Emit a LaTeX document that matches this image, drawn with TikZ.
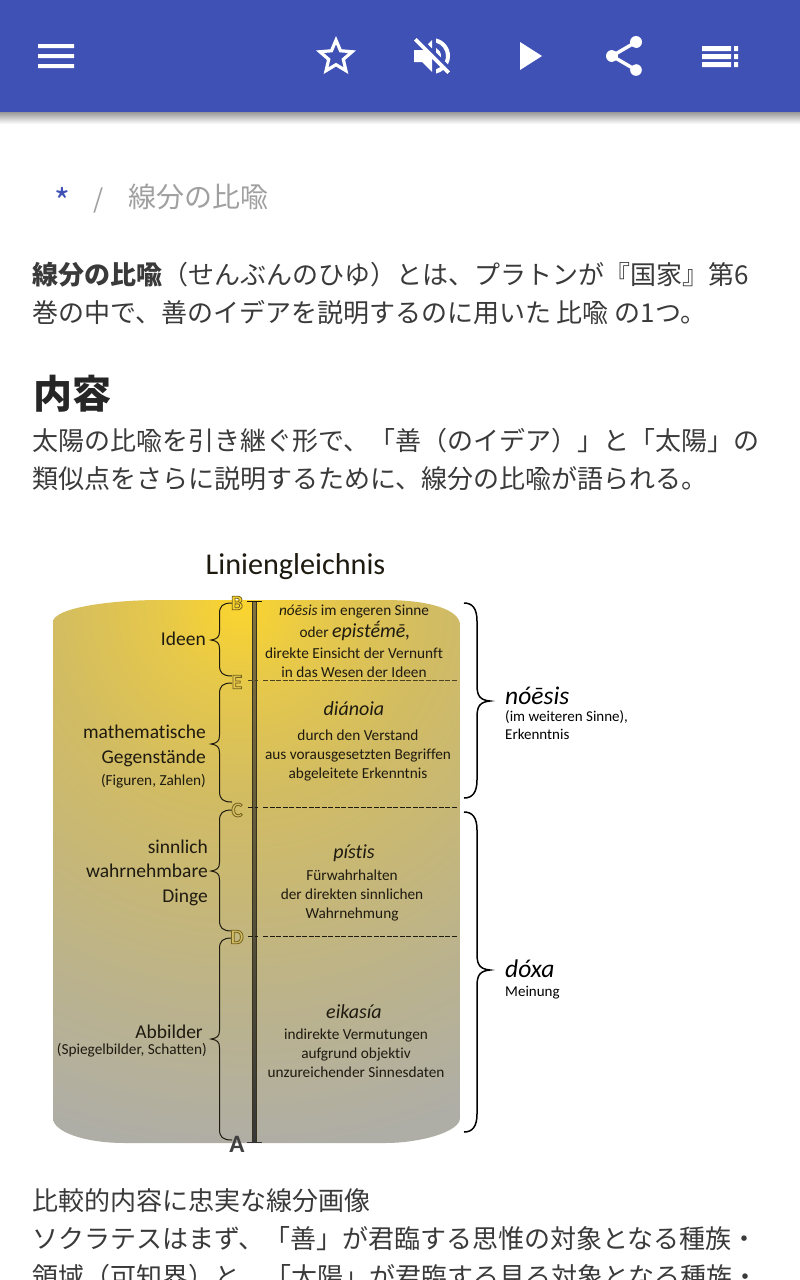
\documentclass[tikz,border=0pt]{standalone}
\usepackage{fontspec}
\setmainfont{Carlito}[Ligatures=NoCommon]
\newfontfamily\jp{Noto Sans CJK JP}
\usetikzlibrary{svg.path}
\definecolor{hdr}{HTML}{3F51B5}
\definecolor{bodytxt}{HTML}{3A3A3A}
\definecolor{crumb}{HTML}{A0A0A0}
\definecolor{ink}{HTML}{1E1A10}
\definecolor{c0}{HTML}{FBD52E}
\definecolor{c1}{HTML}{E6C84A}
\definecolor{c2}{HTML}{D2BC62}
\definecolor{c3}{HTML}{BCB38A}
\definecolor{c4}{HTML}{AFAEA6}
\pgfdeclareradialshading{cyl}{\pgfpointorigin}{color(0bp)=(c0); color(2.9bp)=(c1); color(6.8bp)=(c2); color(14bp)=(c3); color(19.5bp)=(c4); color(50bp)=(c4)}
\newcommand{\hollow}[2]{\textcolor{#1}{\special{pdf:code 2 Tr 0.8 w 0.45 0.38 0.12 RG}#2\special{pdf:code 0 Tr}}}
\newcommand{\lbr}[6]{\draw[bracestyle] (#1,#4) .. controls (#2+3,#4) and (#2,#4+3) .. (#2,#4+11) -- (#2,#5-9) .. controls (#2,#5-3) and (#2-2,#5-1) .. (#3,#5) .. controls (#2-2,#5+1) and (#2,#5+3) .. (#2,#5+9) -- (#2,#6-11) .. controls (#2,#6-3) and (#2+3,#6) .. (#1,#6);}
\newcommand{\rbr}[6]{\draw[bracestyle,line width=1.5pt,black] (#1,#4) .. controls (#2-5,#4) and (#2,#4+5) .. (#2,#4+18) -- (#2,#5-16) .. controls (#2,#5-5) and (#2+3,#5-1) .. (#3,#5) .. controls (#2+3,#5+1) and (#2,#5+5) .. (#2,#5+16) -- (#2,#6-18) .. controls (#2,#6-5) and (#2-5,#6) .. (#1,#6);}
\tikzset{
  bracestyle/.style={draw=ink,line width=1pt},
  iconfill/.style={fill=white,even odd rule},
  bodyline/.style={anchor=base west,inner sep=0,font=\jp\fontsize{26}{26}\selectfont,text=bodytxt},
  rt/.style={anchor=base east,inner sep=0,text=ink},
  ct/.style={anchor=base,inner sep=0,text=ink},
  lt/.style={anchor=base west,inner sep=0,text=black},
  big/.style={font=\fontsize{19.5}{19.5}\selectfont},
  mid/.style={font=\fontsize{15.3}{15.3}\selectfont},
  ital/.style={font=\fontsize{20}{20}\selectfont\itshape},
  dashline/.style={draw=ink,line width=0.9pt,dash pattern=on 5pt off 1.5pt},
  letter/.style={anchor=center,inner sep=0,font=\bfseries\fontsize{21}{21}\selectfont}
}
\begin{document}
\begin{tikzpicture}[x=1pt,y=-1pt]
\useasboundingbox (0,0) rectangle (800,1280);
\clip (0,0) rectangle (800,1280);
\fill[white] (0,0) rectangle (800,1280);
% header
\shade[top color=black!40,bottom color=white] (0,112) rectangle (800,124);
\fill[hdr] (0,0) rectangle (800,112);
\begin{scope}[shift={(32,32)},xscale=2,yscale=-2]
 \fill[iconfill] svg {M3 18 h18 v-2 H3 z M3 13 h18 v-2 H3 z M3 6 v2 h18 V6 z};
\end{scope}
\begin{scope}[shift={(312,32)},xscale=2,yscale=-2]
 \fill[iconfill] svg {M22 9.24 L14.81 8.62 L12 2 L9.19 8.63 L2 9.24 L7.46 13.97 L5.82 21 L12 17.27 L18.18 21 L16.55 13.97 z M12 15.4 L8.24 17.67 L9.24 13.39 L5.92 10.51 L10.3 10.13 L12 6.1 L13.71 10.14 L18.09 10.52 L14.77 13.4 L15.77 17.68 z};
\end{scope}
\begin{scope}[shift={(408,32)},xscale=2,yscale=-2]
 \fill[fill=white] svg {M16.5 12 c0 -1.77 -1.02 -3.29 -2.5 -4.03 v2.21 l2.45 2.45 c0.03 -0.2 0.05 -0.41 0.05 -0.63 z M19 12 c0 0.94 -0.2 1.82 -0.54 2.64 l1.51 1.51 C20.63 14.91 21 13.5 21 12 c0 -4.28 -2.99 -7.86 -7 -8.77 v2.06 c2.89 0.86 5 3.54 5 6.71 z M4.27 3 L3 4.27 L7.73 9 H3 v6 h4 l5 5 v-6.73 l4.25 4.25 c-0.67 0.52 -1.42 0.93 -2.25 1.18 v2.06 c1.38 -0.31 2.63 -0.95 3.69 -1.81 L19.73 21 L21 19.73 l-9 -9 L4.27 3 z M12 4 L9.91 6.09 L12 8.18 V4 z};
\end{scope}
\begin{scope}[shift={(504,32)},xscale=2,yscale=-2]
 \fill[white] svg {M8 5 v14 l11 -7 z};
\end{scope}
\begin{scope}[shift={(600,32)},xscale=2,yscale=-2]
 \fill[white] svg {M18 16.08 c-0.76 0 -1.44 0.3 -1.96 0.77 L8.91 12.7 c0.05 -0.23 0.09 -0.46 0.09 -0.7 s-0.04 -0.47 -0.09 -0.7 l7.05 -4.11 c0.54 0.5 1.25 0.81 2.04 0.81 c1.66 0 3 -1.34 3 -3 s-1.34 -3 -3 -3 s-3 1.34 -3 3 c0 0.24 0.04 0.47 0.09 0.7 L8.04 9.81 C7.5 9.31 6.79 9 6 9 c-1.66 0 -3 1.34 -3 3 s1.34 3 3 3 c0.79 0 1.5 -0.31 2.04 -0.81 l7.12 4.16 c-0.05 0.21 -0.08 0.43 -0.08 0.65 c0 1.61 1.31 2.92 2.92 2.92 c1.61 0 2.92 -1.31 2.92 -2.92 s-1.31 -2.92 -2.92 -2.92 z};
\end{scope}
\fill[white] (702,46) rectangle (731,51) (702,54) rectangle (731,59) (702,62) rectangle (731,67)
 (734,46) rectangle (738,51) (734,54) rectangle (738,59) (734,62) rectangle (738,67);
% breadcrumb
\node[anchor=base west,inner sep=0,text=hdr,font=\jp\fontsize{34}{34}\selectfont] (star) at (54,214) {*};
\node[anchor=base west,inner sep=0,text=crumb,font=\jp\fontsize{26}{26}\selectfont] (slash) at (93,208) {/};
\node[anchor=base west,inner sep=0,text=crumb,font=\jp\fontsize{28}{28}\selectfont] (crumb) at (128,207) {線分の比喩};
% body
\node[bodyline] (l1) at (32,284) {{\bfseries 線分の比喩}（せんぶんのひゆ）とは、プラトンが『国家』第6};
\node[bodyline] (l2) at (32,322) {巻の中で、善のイデアを説明するのに用いた 比喩 の1つ。};
\node[anchor=base west,inner sep=0,text=black!85,font=\jp\bfseries\fontsize{39}{39}\selectfont] (h) at (33,408) {内容};
\node[bodyline] (l3) at (32,450) {太陽の比喩を引き継ぐ形で、「善（のイデア）」と「太陽」の};
\node[bodyline] (l4) at (32,488) {類似点をさらに説明するために、線分の比喩が語られる。};
\node[bodyline] (l5) at (32,1210) {比較的内容に忠実な線分画像};
\node[bodyline] (l6) at (32,1248) {ソクラテスはまず、「善」が君臨する思惟の対象となる種族・};
\node[bodyline] (l7) at (32,1286) {領域（可知界）と、「太陽」が君臨する見る対象となる種族・};
% title
\node[anchor=base,inner sep=0,text=ink,font=\fontsize{30.2}{30.2}\selectfont] (title) at (295.5,574) {Liniengleichnis};
% cylinder
\begin{scope}
\clip (53,622) .. controls (53,608) and (110,600) .. (160,600) -- (385,600) .. controls (430,600) and (460,610) .. (460,625) -- (460,1118) .. controls (460,1132) and (420,1143) .. (385,1143) -- (125,1143) .. controls (85,1143) and (53,1132) .. (53,1118) -- cycle;
\shade[shading=cyl] (240,605) circle (700);
\end{scope}
% axis
\shade[top color=c2!55!ink,middle color=black!70!c2,bottom color=black!78] (252,601) rectangle (256.5,1142);
\draw[draw=ink!85!c2,line width=0.7pt] (252,601) -- (252,1142) (256.5,601) -- (256.5,1142);
\draw[draw=ink,line width=1pt] (247,601) -- (262,601);
\draw[draw=black!80,line width=1pt] (247,1142) -- (262,1142);
\draw[dashline,draw=ink!75!c2] (248,680) -- (258,680);
\draw[dashline,draw=ink!75!c2] (263,680) -- (458,680);
\draw[dashline] (248,807) -- (258,807);
\draw[dashline] (263,807) -- (458,807);
\draw[dashline] (248,936) -- (258,936);
\draw[dashline] (263,936) -- (458,936);
% left braces
\lbr{232}{219.5}{211}{603}{640}{676}
\lbr{232}{219.5}{211}{683}{744}{802}
\lbr{232}{219.5}{211}{810}{871}{931}
\lbr{232}{219.5}{211}{938}{1039}{1140}
% right braces
\rbr{464}{477}{490}{603}{701}{798}
\rbr{464}{477}{490}{812}{970}{1132}
% letters
\node[letter] (B) at (237,603) {\hollow{c0}{B}};
\node[letter] (E) at (237,682) {\hollow{c1}{E}};
\node[letter] (C) at (237,810) {\hollow{c2}{C}};
\node[letter] (D) at (237,937) {\hollow{c2}{D}};
\node[letter,text=black!75,font=\bfseries\fontsize{25}{25}\selectfont] (A) at (237,1144) {A};
% left labels
\node[rt,big] (t1) at (206,645.5) {Ideen};
\node[rt,big] (t2) at (206,738) {mathematische};
\node[rt,big] (t3) at (206,763) {Gegenstände};
\node[rt,mid] (t4) at (206,785) {(Figuren, Zahlen)};
\node[rt,big] (t5) at (208,853.5) {sinnlich};
\node[rt,big] (t6) at (208,877.5) {wahrnehmbare};
\node[rt,big] (t7) at (208,902) {Dinge};
\node[rt,big] (t8) at (203,1038) {Abbilder};
\node[rt,mid] (t9) at (207,1054) {(Spiegelbilder, Schatten)};
% center labels
\node[ct,mid] (a1) at (354,615) {{\itshape nóēsis} im engeren Sinne};
\node[ct,mid] (a2) at (355,637) {oder {\itshape\fontsize{20}{20}\selectfont epistḗmē,}};
\node[ct,mid] (a3) at (354,658) {direkte Einsicht der Vernunft};
\node[ct,mid] (a4) at (354,677) {in das Wesen der Ideen};
\node[ct,ital] (a5) at (354,715) {diánoia};
\node[ct,mid] (a6) at (358,740) {durch den Verstand};
\node[ct,mid] (a7) at (358,759) {aus vorausgesetzten Begriffen};
\node[ct,mid] (a8) at (358,778) {abgeleitete Erkenntnis};
\node[ct,ital] (b1) at (354,858) {pístis};
\node[ct,mid] (b2) at (352,880) {Fürwahrhalten};
\node[ct,mid] (b3) at (352,899) {der direkten sinnlichen};
\node[ct,mid] (b4) at (352,918) {Wahrnehmung};
\node[ct,ital] (c1) at (354,1018) {eikasía};
\node[ct,mid] (c2) at (356,1039) {indirekte Vermutungen};
\node[ct,mid] (c3) at (356,1058) {aufgrund objektiv};
\node[ct,mid] (c4) at (356,1077) {unzureichender Sinnesdaten};
% right labels
\node[lt,font=\fontsize{25.5}{25.5}\selectfont\itshape] (r1) at (505,704) {nóēsis};
\node[lt,font=\fontsize{15}{15}\selectfont] (r2) at (505,721) {(im weiteren Sinne),};
\node[lt,font=\fontsize{15}{15}\selectfont] (r3) at (505,739) {Erkenntnis};
\node[lt,font=\fontsize{25.5}{25.5}\selectfont\itshape] (r4) at (505,977) {dóxa};
\node[lt,font=\fontsize{15}{15}\selectfont] (r5) at (505,996) {Meinung};
\end{tikzpicture}
\end{document}
